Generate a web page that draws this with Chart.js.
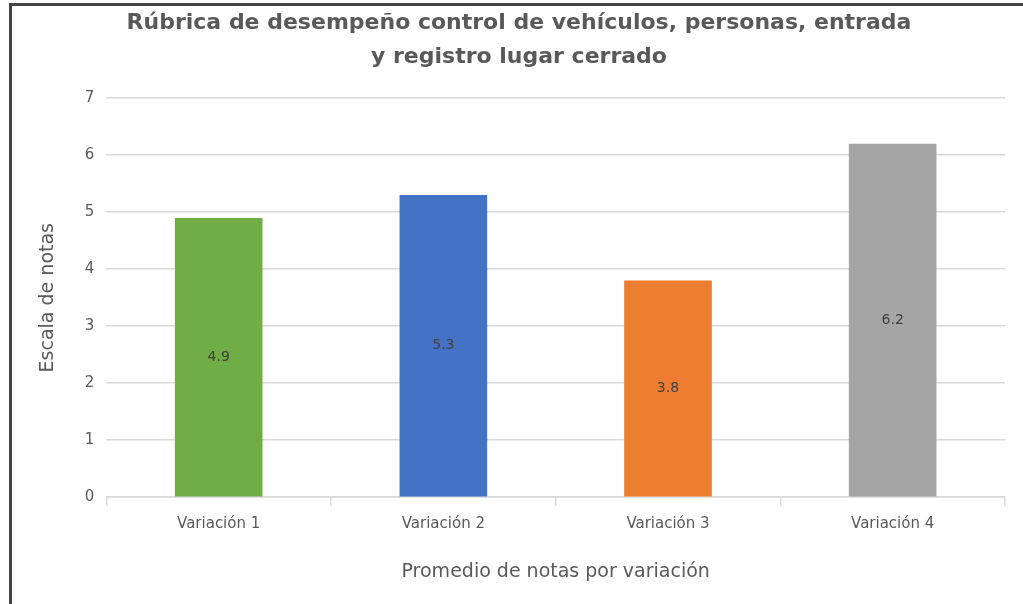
<!DOCTYPE html>
<html>
<head>
<meta charset="utf-8">
<script src="https://cdn.jsdelivr.net/npm/chart.js@4/dist/chart.umd.min.js"></script>
<style>
body { margin: 0; background: #fff; }
#frame { position: absolute; left: 9px; top: 3px; width: 1014px; height: 601px; border-left: 3px solid #454545; border-top: 3px solid #454545; }
#wrap { position: absolute; left: 12px; top: 6px; width: 1011px; height: 598px; }
</style>
</head>
<body>
<div id="frame"></div>
<div id="wrap"><canvas id="myChart"></canvas></div>
<script>
var variaciones = ['Variación 1', 'Variación 2', 'Variación 3', 'Variación 4'];
var notas = [4.9, 5.3, 3.8, 6.2];
var colores = ['#70AD47', '#4472C4', '#ED7D31', '#A5A5A5'];
var titulo = ['Rúbrica de desempeño control de vehículos, personas, entrada', 'y registro lugar cerrado'];

// draws the value in the middle of each bar
var etiquetas = {
    id: 'etiquetas',
    afterDatasetsDraw: function(chart) {
        var ctx = chart.ctx;
        var meta = chart.getDatasetMeta(0);
        ctx.save();
        ctx.font = '14px "DejaVu Sans"';
        ctx.fillStyle = '#404040';
        ctx.textAlign = 'center';
        ctx.textBaseline = 'middle';
        meta.data.forEach(function(bar, i) {
            var mid = (bar.y + bar.base) / 2;
            ctx.fillText(notas[i].toFixed(1), bar.x, mid);
        });
        ctx.restore();
    }
};

var ctx = document.getElementById('myChart').getContext('2d');
var chart = new Chart(ctx, {
    type: 'bar',
    data: {
        labels: variaciones,
        datasets: [{
            data: notas,
            backgroundColor: colores,
            barPercentage: 0.39,
            categoryPercentage: 1
        }]
    },
    options: {
        responsive: true,
        maintainAspectRatio: false,
        animation: false,
        layout: { padding: { top: 0, right: 18, bottom: 17, left: 21 } },
        plugins: {
            legend: { display: false },
            tooltip: { enabled: false },
            title: {
                display: true,
                text: titulo,
                color: '#595959',
                font: { family: 'DejaVu Sans', size: 22, weight: 'bold', lineHeight: 1.55 },
                padding: { top: 0, bottom: 24 }
            }
        },
        scales: {
            x: {
                grid: { offset: true, drawOnChartArea: false, drawTicks: true, tickLength: 9, color: '#d9d9d9', lineWidth: 1.5 },
                border: { color: '#d9d9d9', width: 1.5 },
                ticks: { color: '#595959', font: { family: 'DejaVu Sans', size: 15 }, padding: 9 },
                title: { display: true, text: 'Promedio de notas por variación', color: '#595959', font: { family: 'DejaVu Sans', size: 19 }, padding: { top: 18 } }
            },
            y: {
                min: 0,
                max: 7,
                ticks: { stepSize: 1, color: '#595959', font: { family: 'DejaVu Sans', size: 15 }, padding: 12 },
                grid: { color: '#d9d9d9', lineWidth: 1.5, drawTicks: false },
                border: { display: false },
                title: { display: true, text: 'Escala de notas', color: '#595959', font: { family: 'DejaVu Sans', size: 19 }, padding: { bottom: 13 } }
            }
        }
    },
    plugins: [etiquetas]
});
</script>
</body>
</html>
